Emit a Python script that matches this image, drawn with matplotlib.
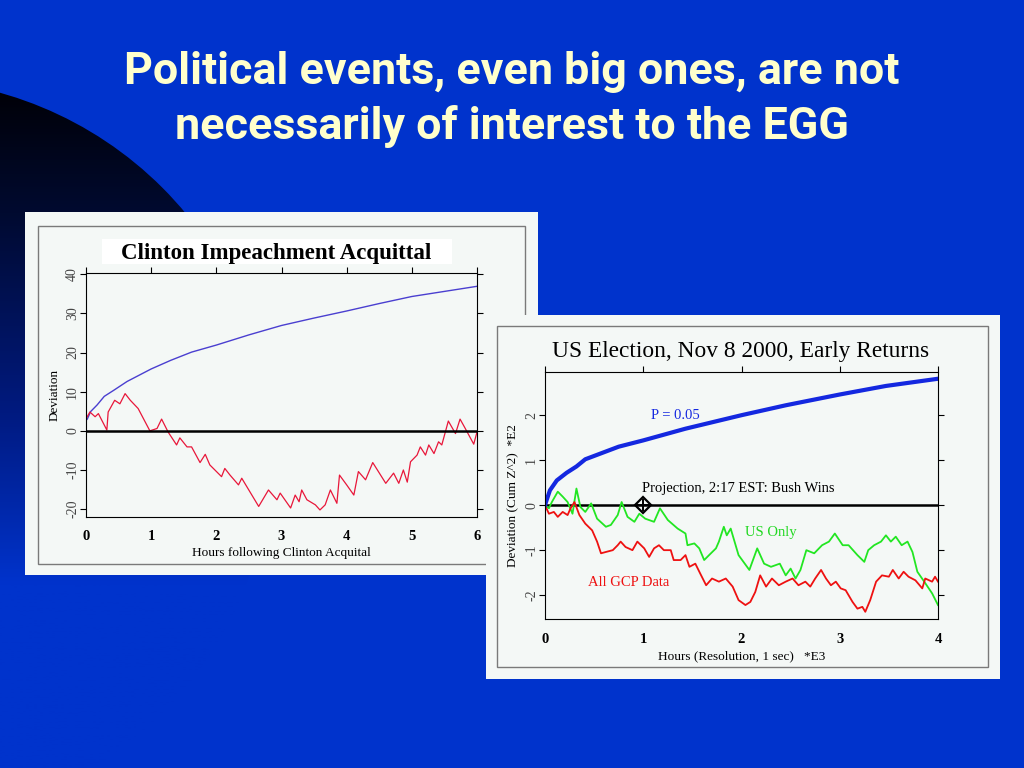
import numpy as np
import matplotlib.pyplot as plt
from matplotlib.patches import Rectangle, Circle
from matplotlib.colors import LinearSegmentedColormap

plt.rcParams['axes.unicode_minus'] = False

# ---- data ----
# Clinton impeachment acquittal (hours, deviation)
clinton_p05_x = [0.0, 0.02, 0.07, 0.17, 0.28, 0.43, 0.63, 1.0, 1.3, 1.62, 2.0, 2.5,
                 3.0, 3.5, 4.0, 4.5, 5.0, 5.5, 6.0]
clinton_p05_y = [2.7, 3.0, 4.9, 6.6, 8.8, 10.4, 12.6, 15.8, 18.0, 20.1, 21.9, 24.5,
                 26.9, 28.8, 30.6, 32.5, 34.3, 35.6, 36.9]

clinton_x = [0.0, 0.06, 0.14, 0.19, 0.32, 0.34, 0.44, 0.52, 0.60, 0.68, 0.80, 0.98,
             1.09, 1.16, 1.26, 1.39, 1.44, 1.55, 1.62, 1.75, 1.83, 1.90, 2.08, 2.13,
             2.21, 2.34, 2.39, 2.65, 2.80, 2.93, 2.98, 3.14, 3.21, 3.27, 3.31, 3.39,
             3.52, 3.59, 3.67, 3.75, 3.85, 3.89, 4.00, 4.11, 4.18, 4.29, 4.40, 4.60,
             4.72, 4.80, 4.87, 4.93, 4.98, 5.08, 5.13, 5.21, 5.26, 5.34, 5.41, 5.46,
             5.56, 5.67, 5.74, 5.82, 5.95, 6.0]
clinton_y = [3.1, 4.8, 3.6, 4.4, 0.2, 4.8, 7.8, 6.9, 9.5, 7.8, 5.7, 0.0,
             0.6, 3.0, -0.3, -3.6, -1.8, -4.1, -4.1, -8.1, -6.0, -8.7, -11.7, -9.6,
             -11.3, -13.8, -12.1, -19.3, -15.1, -17.6, -15.9, -19.7, -16.4, -18.1, -15.1, -17.6,
             -18.9, -20.2, -18.9, -15.1, -18.5, -11.3, -13.8, -16.4, -10.4, -12.5, -8.1, -13.4,
             -10.8, -13.4, -10.0, -13.1, -7.9, -6.2, -4.1, -6.2, -3.6, -5.8, -2.8, -3.6,
             2.5, -0.7, 3.0, 0.6, -3.4, -0.3]

# US election 2000 (hours *E3, deviation *E2)
elec_p05_x = [0.0, 0.01, 0.05, 0.12, 0.22, 0.32, 0.41, 0.75, 1.0, 1.43, 2.0, 2.45,
              3.0, 3.47, 4.0]
elec_p05_y = [0.0, 0.07, 0.33, 0.55, 0.72, 0.86, 1.02, 1.30, 1.44, 1.70, 2.0, 2.22,
              2.46, 2.65, 2.81]

us_x = [0.0, 0.04, 0.07, 0.13, 0.18, 0.23, 0.28, 0.32, 0.36, 0.41, 0.47, 0.53, 0.62,
        0.67, 0.74, 0.78, 0.84, 0.91, 0.96, 1.02, 1.11, 1.17, 1.25, 1.35, 1.43, 1.45,
        1.52, 1.57, 1.62, 1.67, 1.74, 1.77, 1.82, 1.85, 1.89, 1.97, 2.08, 2.11, 2.16,
        2.23, 2.30, 2.39, 2.45, 2.50, 2.55, 2.60, 2.66, 2.74, 2.82, 2.89, 2.95, 3.03,
        3.09, 3.18, 3.25, 3.29, 3.35, 3.42, 3.47, 3.52, 3.57, 3.63, 3.69, 3.74, 3.79,
        3.86, 3.94, 4.0]
us_y = [0.0, -0.07, 0.07, 0.30, 0.19, 0.07, -0.19, 0.37, -0.04, -0.15, 0.04, -0.30, -0.48,
        -0.44, -0.22, 0.07, -0.26, -0.37, -0.19, -0.30, -0.37, -0.07, -0.33, -0.52, -0.63, -0.89,
        -0.85, -0.96, -1.22, -1.11, -0.96, -0.81, -0.48, -0.67, -0.52, -1.11, -1.44, -1.26, -0.96,
        -1.30, -1.37, -1.30, -1.56, -1.41, -1.63, -1.44, -1.00, -1.07, -0.89, -0.81, -0.63, -0.89,
        -0.89, -1.11, -1.26, -1.00, -0.89, -0.81, -0.67, -0.81, -0.70, -0.89, -0.81, -1.04, -1.48,
        -1.70, -1.96, -2.22]

gcp_x = [0.0, 0.04, 0.09, 0.13, 0.18, 0.23, 0.26, 0.30, 0.35, 0.41, 0.48, 0.53, 0.57,
         0.62, 0.69, 0.74, 0.77, 0.82, 0.89, 0.94, 1.01, 1.06, 1.11, 1.16, 1.21, 1.28,
         1.31, 1.38, 1.43, 1.47, 1.53, 1.58, 1.64, 1.70, 1.77, 1.84, 1.91, 1.97, 2.04,
         2.09, 2.14, 2.19, 2.25, 2.31, 2.38, 2.45, 2.52, 2.58, 2.65, 2.70, 2.75, 2.81,
         2.86, 2.91, 2.96, 3.01, 3.06, 3.13, 3.18, 3.23, 3.26, 3.31, 3.37, 3.43, 3.50,
         3.54, 3.60, 3.65, 3.70, 3.77, 3.84, 3.87, 3.94, 3.97, 4.0]
gcp_y = [0.0, -0.19, -0.15, -0.26, -0.15, -0.22, -0.07, 0.07, -0.22, -0.41, -0.56, -0.81, -1.07,
         -1.04, -1.00, -0.89, -0.81, -0.93, -1.00, -0.81, -0.96, -1.15, -0.96, -0.89, -1.00, -1.00,
         -1.22, -1.22, -1.11, -1.37, -1.30, -1.52, -1.78, -1.63, -1.70, -1.63, -1.81, -2.11, -2.22,
         -2.15, -1.93, -1.56, -1.81, -1.63, -1.78, -1.70, -1.63, -1.78, -1.70, -1.81, -1.63, -1.44,
         -1.63, -1.78, -1.70, -1.85, -1.89, -2.15, -2.30, -2.26, -2.37, -2.11, -1.70, -1.56, -1.59,
         -1.44, -1.63, -1.48, -1.59, -1.67, -1.85, -1.63, -1.70, -1.59, -1.70]

W, H = 1024, 768
BG = '#0033CC'
PANEL = '#F4F8F6'
serif = ['Liberation Serif', 'DejaVu Serif']

fig = plt.figure(figsize=(10.24, 7.68), dpi=100, facecolor=BG)


def px_axes(left, top, right, bottom, **kw):
    # axes placed by pixel box
    return fig.add_axes([left / W, 1 - bottom / H, (right - left) / W, (bottom - top) / H], **kw)


def style_ticks(ax, xpad):
    ax.tick_params(axis='x', bottom=False, top=True, direction='out', length=4, pad=xpad)
    ax.tick_params(axis='y', left=True, right=True, direction='out', length=4, pad=1)
    for lab in ax.get_xticklabels():
        lab.set_family(serif)
        lab.set_fontweight('bold')
        lab.set_fontsize(10.5)
    for lab in ax.get_yticklabels():
        lab.set_family(serif)
        lab.set_fontsize(10)
        lab.set_color('#444444')
        lab.set_rotation(90)
        lab.set_va('center')


# ---- slide background ----
bg = fig.add_axes([0, 0, 1, 1], zorder=0)
bg.set_xlim(0, W)
bg.set_ylim(H, 0)
bg.axis('off')

cmap = LinearSegmentedColormap.from_list(
    'arc', [(0.0, '#000004'), (0.18, '#000a30'), (0.45, '#001a80'), (0.68, BG), (1.0, BG)])
grad = np.linspace(0, 1, 256).reshape(-1, 1)
im = bg.imshow(grad, cmap=cmap, extent=[-471, 271, 821, 79], aspect='auto', zorder=1)
arc = Circle((-100, 450), 371, transform=bg.transData, facecolor='none', edgecolor='none')
bg.add_patch(arc)
im.set_clip_path(arc)

title_font = ['Roboto', 'Liberation Sans']
bg.text(512, 72, 'Political events, even big ones, are not', color='#FFFFCC',
        fontsize=32.3, fontweight='bold', family=title_font, ha='center', va='center', zorder=3)
bg.text(512, 127, 'necessarily of interest to the EGG', color='#FFFFCC',
        fontsize=32.3, fontweight='bold', family=title_font, ha='center', va='center', zorder=3)

# left panel frame
bg.add_patch(Rectangle((25, 212), 513, 363, facecolor=PANEL, edgecolor='none', zorder=2))
bg.add_patch(Rectangle((38, 226), 487, 338, facecolor='none', edgecolor='#7a7a7a', lw=1, zorder=2))
bg.add_patch(Rectangle((102, 239), 350, 25, facecolor='white', edgecolor='none', zorder=2))
bg.text(276, 253, 'Clinton Impeachment Acquittal', family=serif, fontweight='bold',
        fontsize=16.5, ha='center', va='center', zorder=3)

# ---- left chart ----
ax1 = px_axes(86, 273, 477, 517, zorder=1)
ax1.set_facecolor('none')
ax1.plot(clinton_p05_x, clinton_p05_y, color='#4a3fd0', lw=1)
ax1.plot(clinton_x, clinton_y, color='#e8173a', lw=0.9)
ax1.axhline(0, color='black', lw=1.8)
ax1.set_xlim(0, 6)
ax1.set_ylim(-22, 40.3)
ax1.set_xticks(range(0, 7))
ax1.set_yticks(range(-20, 41, 10))
style_ticks(ax1, 5)
ax1.set_xlabel('Hours following Clinton Acquital', family=serif, fontsize=9.5, labelpad=3)
ax1.set_ylabel('Deviation', family=serif, fontsize=9.5, labelpad=4)

# ---- right panel frame (over the left one) ----
ov = fig.add_axes([0, 0, 1, 1], zorder=2)
ov.set_xlim(0, W)
ov.set_ylim(H, 0)
ov.axis('off')
ov.patch.set_visible(False)
ov.add_patch(Rectangle((486, 315), 514, 364, facecolor=PANEL, edgecolor='none'))
ov.add_patch(Rectangle((497, 326), 491, 341, facecolor='none', edgecolor='#7a7a7a', lw=1))
ov.text(741, 352, 'US Election, Nov 8 2000, Early Returns', family=serif,
        fontsize=16.8, ha='center', va='center')

# ---- right chart ----
ax2 = px_axes(545, 372, 938, 619, zorder=3)
ax2.set_facecolor('none')
ax2.axhline(0, color='black', lw=1.8)
ax2.plot(us_x, us_y, color='#22e622', lw=1.3)
ax2.plot(gcp_x, gcp_y, color='#ee1111', lw=1.3)
ax2.plot(elec_p05_x, elec_p05_y, color='#1428e0', lw=3)
ax2.plot([1], [0], marker='D', ms=8, mfc='none', mec='black', mew=1.6)
ax2.plot([1], [0], marker='+', ms=8, color='black', mew=1.4)
ax2.text(1.33, 2.0, 'P = 0.05', color='#1428e0', family=serif, fontsize=10.5, ha='center', va='center')
ax2.text(1.97, 0.38, 'Projection, 2:17 EST: Bush Wins', color='black', family=serif,
         fontsize=10.5, ha='center', va='center')
ax2.text(2.30, -0.6, 'US Only', color='#22d822', family=serif, fontsize=10.5, ha='center', va='center')
ax2.text(0.85, -1.71, 'All GCP Data', color='#ee1111', family=serif, fontsize=10.5, ha='center', va='center')
ax2.set_xlim(0, 4)
ax2.set_ylim(-2.53, 2.96)
ax2.set_xticks(range(0, 5))
ax2.set_yticks(range(-2, 3))
style_ticks(ax2, 6)
ax2.set_xlabel('Hours (Resolution, 1 sec)   *E3', family=serif, fontsize=9.5, labelpad=3)
ax2.set_ylabel('Deviation (Cum Z^2)  *E2', family=serif, fontsize=9.5, labelpad=4)

fig.savefig('out.png', dpi=100, facecolor=BG)
